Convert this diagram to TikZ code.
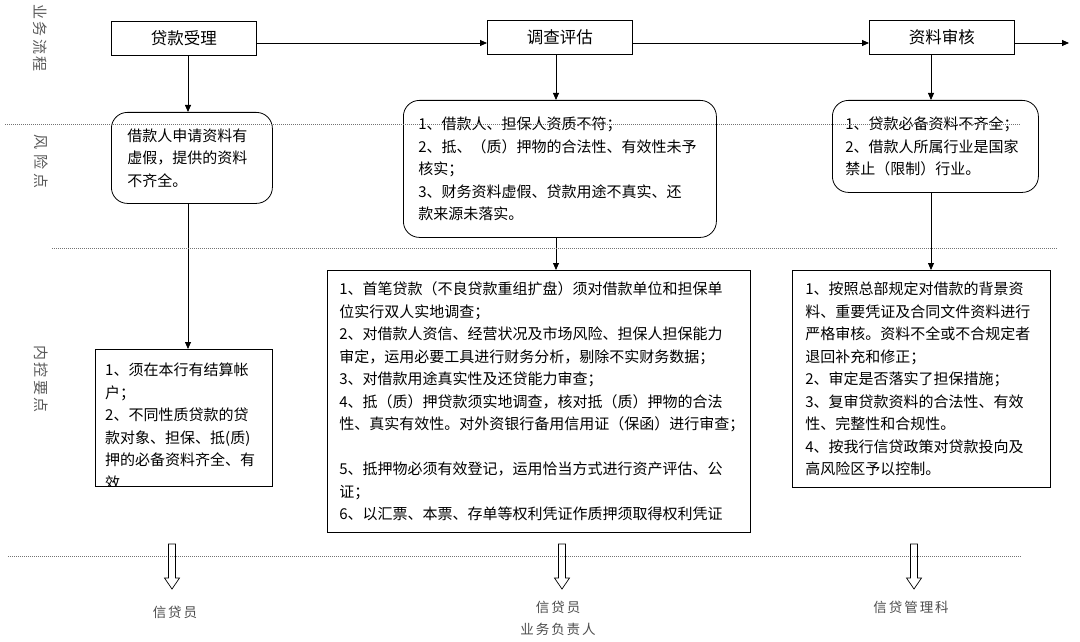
\documentclass[tikz,border=0pt]{standalone}
\usepackage{fontspec}
\newfontfamily\cjk{Noto Sans CJK SC}
\usetikzlibrary{calc}
\usetikzlibrary{arrows.meta}
\newcommand\hollowdown[1]{
    \def\shaftw{3.5}
    \def\headw{7.5}
    \def\shaftl{34}
    \def\tipl{45}
    \draw[line width=0.7pt] ($(#1) + (-\shaftw,0)$) -- ($(#1) + (\shaftw,0)$)
        -- ($(#1) + (\shaftw,\shaftl)$) -- ($(#1) + (\headw,\shaftl)$)
        -- ($(#1) + (0,\tipl)$) -- ($(#1) + (-\headw,\shaftl)$)
        -- ($(#1) + (-\shaftw,\shaftl)$) -- cycle;
}

\begin{document}
\begin{tikzpicture}[x=1pt, y=-1pt,
        stage/.style={draw, line width=0.8pt, minimum width=145pt, minimum height=34pt,
            anchor=north west, font=\cjk\fontsize{16.5}{20}\selectfont},
        risk/.style={draw, line width=0.8pt, rounded corners=16pt, align=left,
            anchor=north west, font=\cjk\fontsize{15}{22.5}\selectfont},
        ctrl/.style={draw, line width=0.8pt, align=left, anchor=north west,
            font=\cjk\fontsize{15}{22.5}\selectfont},
        lane/.style={rotate=-90, text=black!65, font=\cjk\fontsize{15}{16}\selectfont},
        role/.style={text=black!70, align=center, font=\cjk\fontsize{13.5}{22}\selectfont},
        sep/.style={black!55, line width=0.6pt, dash pattern=on 1pt off 1pt},
        flow/.style={line width=0.8pt, -{Triangle[length=7pt,width=6pt]}}
    ]
    \useasboundingbox (0,0) rectangle (1080,642);

    % lanes
    \node[lane] (laneflow) at (40,38) {业\hspace{2.5pt}务\hspace{2.5pt}流\hspace{2.5pt}程};
    \node[lane] (lanerisk) at (41,162) {风\hspace{4.5pt}险\hspace{4.5pt}点};
    \node[lane] (lanectrl) at (41,379) {内\hspace{2.5pt}控\hspace{2.5pt}要\hspace{2.5pt}点};

    % business flow
    \node[stage] (accept) at (111,21) {贷款受理};
    \node[stage] (survey) at (487,20) {调查评估};
    \node[stage] (review) at (869,20) {资料审核};
    \coordinate (rowA) at (0,43);
    \coordinate (out) at (1069,43);
    \coordinate (colA) at (188,0);
    \coordinate (colB) at (556,0);
    \coordinate (colC) at (931,0);

    % risk points
    \node[risk, inner xsep=16pt, text width=129pt, minimum height=91pt] (risk1) at (111,112)
        {借款人申请资料有\\虚假，提供的资料\\不齐全。};
    \node[risk, inner xsep=15pt, text width=283pt, minimum height=137pt] (risk2) at (403,100)
        {1、借款人、担保人资质不符；\\
        2、抵、（质）押物的合法性、有效性未予\\核实；\\
        3、财务资料虚假、贷款用途不真实、还\\款来源未落实。};
    \node[risk, inner xsep=13pt, text width=180pt, minimum height=92pt] (risk3) at (832,100)
        {1、贷款必备资料不齐全；\\2、借款人所属行业是国家\\禁止（限制）行业。};

    % control points
    \begin{scope}
        \clip (95,349) rectangle (272,486);
        \node[align=left, anchor=north west, inner sep=0pt, text width=160pt,
            font=\cjk\fontsize{15}{22.5}\selectfont] (ctrl1text) at (105,363)
            {1、须在本行有结算帐\\户；\\2、不同性质贷款的贷\\款对象、担保、抵(质)\\押的必备资料齐全、有\\效};
    \end{scope}
    \node[ctrl, minimum width=177pt, minimum height=137pt] (ctrl1) at (95,349) {};
    \node[ctrl, inner xsep=12pt, text width=399pt, minimum height=262pt] (ctrl2) at (327,270)
        {1、首笔贷款（不良贷款重组扩盘）须对借款单位和担保单\\
        位实行双人实地调查；\\
        2、对借款人资信、经营状况及市场风险、担保人担保能力\\
        审定，运用必要工具进行财务分析，剔除不实财务数据；\\
        3、对借款用途真实性及还贷能力审查；\\
        4、抵（质）押贷款须实地调查，核对抵（质）押物的合法\\
        性、真实有效性。对外资银行备用信用证（保函）进行审查；\\[22.5pt]
        5、抵押物必须有效登记，运用恰当方式进行资产评估、公\\
        证；\\
        6、以汇票、本票、存单等权利凭证作质押须取得权利凭证};
    \node[ctrl, inner xsep=13pt, text width=232pt, minimum height=217pt] (ctrl3) at (792,270)
        {1、按照总部规定对借款的背景资\\
        料、重要凭证及合同文件资料进行\\
        严格审核。资料不全或不合规定者\\
        退回补充和修正；\\
        2、审定是否落实了担保措施；\\
        3、复审贷款资料的合法性、有效\\
        性、完整性和合规性。\\
        4、按我行信贷政策对贷款投向及\\
        高风险区予以控制。};

    % connectors
    \draw[flow] (accept.east |- rowA) -- (survey.west |- rowA);
    \draw[flow] (survey.east |- rowA) -- (review.west |- rowA);
    \draw[flow] (review.east |- rowA) -- (out);
    \draw[flow] (accept.south -| colA) -- (risk1.north -| colA);
    \draw[flow] (risk1.south -| colA) -- (ctrl1.north -| colA);
    \draw[flow] (survey.south -| colB) -- (risk2.north -| colB);
    \draw[flow] (risk2.south -| colB) -- (ctrl2.north -| colB);
    \draw[flow] (review.south -| colC) -- (risk3.north -| colC);
    \draw[flow] (risk3.south -| colC) -- (ctrl3.north -| colC);

    % lane separators
    \draw[sep] (5,124) -- (1020,124);
    \draw[sep] (52,248) -- (1057,248);
    \draw[sep] (8,556) -- (1022,556);

    % responsible
    \node[role] (role1) at (175,612) {信\hspace{2pt}贷\hspace{2pt}员};
    \node[role] (role2) at (558,618) {信\hspace{2pt}贷\hspace{2pt}员\\业\hspace{2pt}务\hspace{2pt}负\hspace{2pt}责\hspace{2pt}人};
    \node[role] (role3) at (911,607) {信\hspace{2pt}贷\hspace{2pt}管\hspace{2pt}理\hspace{2pt}科};
    \coordinate (drop1) at (172,544);
    \coordinate (drop2) at (562,544);
    \coordinate (drop3) at (914,544);
    \hollowdown{drop1}
    \hollowdown{drop2}
    \hollowdown{drop3}
\end{tikzpicture}
\end{document}
